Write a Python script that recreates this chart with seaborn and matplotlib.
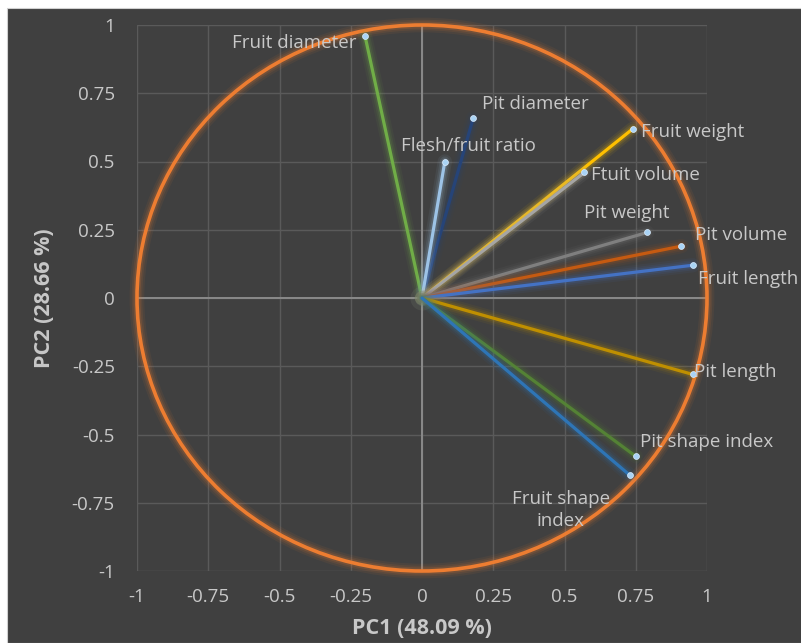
import matplotlib
matplotlib.use("Agg")
import matplotlib.pyplot as plt
import matplotlib.patheffects as pe
from matplotlib.patches import Circle, Rectangle
from matplotlib.ticker import FixedLocator, FuncFormatter
import pandas as pd
import seaborn as sns

# loadings
variables = ["Fruit diameter", "Pit diameter", "Flesh/fruit ratio", "Fruit weight",
             "Ftuit volume", "Pit weight", "Pit volume", "Fruit length",
             "Pit length", "Pit shape index", "Fruit shape\nindex"]
pc1 = [-0.20, 0.18, 0.08, 0.74, 0.57, 0.79, 0.91, 0.95, 0.95, 0.75, 0.73]
pc2 = [0.96, 0.66, 0.50, 0.62, 0.46, 0.24, 0.19, 0.12, -0.28, -0.58, -0.65]
line_colors = ["#70AD47", "#264478", "#9DC3E6", "#FFC000", "#A5A5A5", "#7F7F7F",
               "#C55A11", "#4472C4", "#BF8F00", "#548235", "#2E75B6"]
ticks = [-1, -0.75, -0.5, -0.25, 0, 0.25, 0.5, 0.75, 1]

# label placement (offset in points, alignment)
label_pos = {
    "Fruit diameter": ((-6, -5), "right", "center"),
    "Pit diameter": ((6, 10), "left", "center"),
    "Flesh/fruit ratio": ((17, 11), "center", "center"),
    "Fruit weight": ((6, -2), "left", "center"),
    "Ftuit volume": ((5, -2), "left", "center"),
    "Pit weight": ((-15, 14), "center", "center"),
    "Pit volume": ((10, 8), "left", "center"),
    "Fruit length": ((4, -10), "left", "center"),
    "Pit length": ((1, 2), "left", "center"),
    "Pit shape index": ((3, 10), "left", "center"),
    "Fruit shape\nindex": ((-50, -25), "center", "center"),
}

BG = "#404040"
TXT = "#C8C8C8"


def glow(color, width):
    return [pe.Stroke(linewidth=width + 8, foreground=color, alpha=0.07),
            pe.Stroke(linewidth=width + 5, foreground=color, alpha=0.10),
            pe.Stroke(linewidth=width + 2.5, foreground=color, alpha=0.16),
            pe.Normal()]


df = pd.DataFrame({"variable": variables, "PC1": pc1, "PC2": pc2})

sns.set_theme(style="dark")
plt.rcParams["font.family"] = ["Open Sans", "DejaVu Sans"]

fig = plt.figure(figsize=(8.01, 6.43), dpi=100, facecolor="white")
fig.add_artist(Rectangle((7 / 801, 0), 1, 1 - 8 / 643, transform=fig.transFigure,
                         facecolor=BG, edgecolor="#D0D0D0", linewidth=0.8, zorder=0))
ax = fig.add_axes([137 / 801, 1 - 571 / 643, 570 / 801, 546 / 643])
ax.set_facecolor(BG)

ax.set_xlim(-1, 1)
ax.set_ylim(-1, 1)
ax.xaxis.set_major_locator(FixedLocator(ticks))
ax.yaxis.set_major_locator(FixedLocator(ticks))
fmt = FuncFormatter(lambda v, _: f"{v:g}")
ax.xaxis.set_major_formatter(fmt)
ax.yaxis.set_major_formatter(fmt)
ax.grid(True, color="#5A5A5A", linewidth=1.0)
for s in ax.spines.values():
    s.set_visible(False)
ax.tick_params(length=0, labelsize=13.5, labelcolor=TXT)
ax.tick_params(axis="x", pad=12)
ax.tick_params(axis="y", pad=16)

ax.axhline(0, color="#8A8A8A", linewidth=1.4, zorder=1)
ax.axvline(0, color="#8A8A8A", linewidth=1.4, zorder=1)

circle = Circle((0, 0), 1, fill=False, edgecolor="#ED7D31", linewidth=2.6, zorder=2,
                clip_on=False, path_effects=glow("#ED7D31", 2.6))
ax.add_patch(circle)

for x, y, c in zip(pc1, pc2, line_colors):
    ax.plot([0, x], [0, y], color=c, linewidth=2.3, zorder=3, solid_capstyle="round",
            path_effects=glow(c, 2.3))

# soft bright spot where the vectors meet
ax.scatter([0], [0], s=300, color="#9AA890", alpha=0.12, linewidth=0, zorder=2.5)
ax.scatter([0], [0], s=120, color="#9AA890", alpha=0.18, linewidth=0, zorder=2.5)

sns.scatterplot(data=df, x="PC1", y="PC2", ax=ax, color="#A9D3F5", s=18,
                edgecolor="#DDEEFF", linewidth=0.5, zorder=4, legend=False)

for name, x, y in zip(variables, pc1, pc2):
    off, ha, va = label_pos[name]
    ax.annotate(name, (x, y), xytext=off, textcoords="offset points", ha=ha, va=va,
                fontsize=13.5, color=TXT, zorder=5, linespacing=1.3)

ax.set_xlabel("PC1 (48.09 %)", fontsize=15.5, fontweight="bold", color=TXT, labelpad=9)
ax.set_ylabel("PC2 (28.66 %)", fontsize=15.5, fontweight="bold", color=TXT, labelpad=12)

fig.savefig("out.png", dpi=100, facecolor=fig.get_facecolor())
